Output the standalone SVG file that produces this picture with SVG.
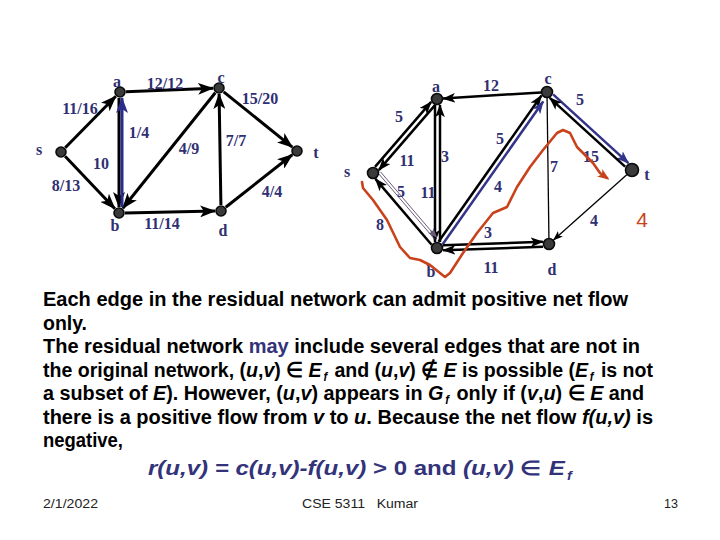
<svg xmlns="http://www.w3.org/2000/svg" width="720" height="540" viewBox="0 0 720 540">
<defs>
<style>
.lbl{font-family:"Liberation Serif","Times New Roman",serif;font-size:16px;font-weight:bold;fill:#2f2f72;text-anchor:middle}
.nd{fill:#3a3a3a;stroke:#0a0a0a;stroke-width:1.6}
.e{stroke:#000;stroke-width:3;fill:none;marker-end:url(#ah)}
.eb{stroke:#2b2b8a;stroke-width:3;fill:none;marker-end:url(#ahb)}
.e2{stroke:#000;stroke-width:2.5;fill:none;marker-end:url(#ah2)}
.eb2{stroke:#33338a;stroke-width:2.5;fill:none;marker-end:url(#ahb2)}
.thin{stroke:#000;stroke-width:1.3;fill:none}
.body{font-family:"Liberation Sans",Arial,sans-serif;font-size:21px;font-weight:bold;fill:#000}
.nv{fill:#33337a}
.sub{font-size:12px;font-style:italic}
.foot{font-family:"Liberation Sans",Arial,sans-serif;font-size:12.5px;fill:#222}
</style>
<marker id="ah" viewBox="0 0 16 12" refX="15" refY="6" markerWidth="16" markerHeight="12" markerUnits="userSpaceOnUse" orient="auto"><path d="M0,0 L16,6 L0,12 L4,6 z" fill="#000"/></marker>
<marker id="ahb" viewBox="0 0 16 12" refX="15" refY="6" markerWidth="16" markerHeight="12" markerUnits="userSpaceOnUse" orient="auto"><path d="M0,0 L16,6 L0,12 L4,6 z" fill="#2b2b8a"/></marker>
<marker id="ah2" viewBox="0 0 16 12" refX="15" refY="6" markerWidth="13" markerHeight="10" markerUnits="userSpaceOnUse" orient="auto"><path d="M0,0 L16,6 L0,12 L4,6 z" fill="#000"/></marker>
<marker id="ahb2" viewBox="0 0 16 12" refX="15" refY="6" markerWidth="13" markerHeight="10" markerUnits="userSpaceOnUse" orient="auto"><path d="M0,0 L16,6 L0,12 L4,6 z" fill="#33338a"/></marker>
<marker id="aht" viewBox="0 0 16 12" refX="15" refY="6" markerWidth="10" markerHeight="8" markerUnits="userSpaceOnUse" orient="auto"><path d="M0,0 L16,6 L0,12 L4,6 z" fill="#000"/></marker>
<marker id="ahp" viewBox="0 0 16 12" refX="15" refY="6" markerWidth="10" markerHeight="8" markerUnits="userSpaceOnUse" orient="auto"><path d="M0,0 L16,6 L0,12 L4,6 z" fill="#6b5b7b"/></marker>
<marker id="ahr" viewBox="0 0 16 12" refX="12" refY="6" markerWidth="12" markerHeight="9" markerUnits="userSpaceOnUse" orient="auto"><path d="M0,0 L16,6 L0,12 L4,6 z" fill="#c8421c"/></marker>
</defs>
<rect width="720" height="540" fill="#fff"/>

<!-- Left graph connectors -->
<g id="connectors-left">
<line class="e" x1="65.2" y1="147.7" x2="115.8" y2="96.3"/>
<line class="e" x1="65.1" y1="156.3" x2="114.9" y2="208.7"/>
<line class="e" x1="126" y1="91.8" x2="213" y2="88.2"/>
<line class="e" x1="223.7" y1="91.8" x2="292.3" y2="147.2"/>
<line class="e" x1="215.3" y1="92.7" x2="122.8" y2="208.3"/>
<line class="e" x1="220.9" y1="205" x2="219.1" y2="94"/>
<line class="e" x1="125" y1="212.9" x2="215" y2="211.1"/>
<line class="e" x1="225.7" y1="207.3" x2="292.3" y2="154.7"/>
<line class="e" x1="119" y1="98" x2="119" y2="207"/>
<line class="eb" x1="122" y1="207" x2="122" y2="98"/>
</g>

<!-- Right graph connectors -->
<g id="connectors-right">
<line class="e2" x1="541" y1="92.4" x2="443" y2="98.6"/>
<line class="e2" x1="375" y1="166.9" x2="431.2" y2="101.9"/>
<line class="e2" x1="435" y1="105.1" x2="378.8" y2="170.1"/>
<line class="e2" x1="435" y1="105" x2="435" y2="242"/>
<line class="e2" x1="440" y1="242" x2="440" y2="105"/>
<line class="e2" x1="438.5" y1="241.7" x2="541.5" y2="95.5"/>
<line class="eb2" x1="442.5" y1="244.5" x2="543.2" y2="101.5"/>
<line class="eb2" x1="553.1" y1="94.3" x2="628.5" y2="163.1"/>
<line class="e2" x1="625.1" y1="166.7" x2="549.7" y2="97.9"/>
<line class="thin" x1="547" y1="92" x2="549" y2="244"/>
<line class="thin" x1="626.8" y1="174.7" x2="553.5" y2="240" style="marker-end:url(#aht)"/>
<line class="e2" x1="442.9" y1="245.3" x2="542.9" y2="241.7"/>
<line class="e2" x1="543.1" y1="246.7" x2="443.1" y2="250.3"/>
<line class="e2" x1="431.6" y1="244.7" x2="375.4" y2="178.9"/>
<line x1="378.5" y1="173.5" x2="434.7" y2="239.3" stroke="#6b5b7b" stroke-width="1"/>
<line x1="380.5" y1="171.8" x2="436.7" y2="237.6" stroke="#6b5b7b" stroke-width="1" style="marker-end:url(#ahp)"/>
</g>

<!-- Left graph nodes -->
<g id="L-a"><circle class="nd" cx="120" cy="92" r="5"/><text class="lbl" x="117" y="87">a</text></g>
<g id="L-c"><circle class="nd" cx="219" cy="88" r="5"/><text class="lbl" x="221" y="83">c</text></g>
<g id="L-s"><circle class="nd" cx="61" cy="152" r="5"/><text class="lbl" x="39" y="155">s</text></g>
<g id="L-t"><circle class="nd" cx="297" cy="151" r="5"/><text class="lbl" x="316" y="158">t</text></g>
<g id="L-b"><circle class="nd" cx="119" cy="213" r="5"/><text class="lbl" x="115" y="231">b</text></g>
<g id="L-d"><circle class="nd" cx="221" cy="211" r="5"/><text class="lbl" x="223" y="236">d</text></g>

<g id="L-labels">
<text class="lbl" x="165" y="89">12/12</text>
<text class="lbl" x="260" y="104">15/20</text>
<text class="lbl" x="80" y="114">11/16</text>
<text class="lbl" x="139" y="138">1/4</text>
<text class="lbl" x="189" y="154">4/9</text>
<text class="lbl" x="236" y="146">7/7</text>
<text class="lbl" x="101" y="169">10</text>
<text class="lbl" x="66" y="191">8/13</text>
<text class="lbl" x="272" y="197">4/4</text>
<text class="lbl" x="162" y="229">11/14</text>
</g>

<!-- Right graph nodes -->
<g id="R-a"><circle class="nd" cx="437" cy="99" r="5.5"/><text class="lbl" x="436" y="92">a</text></g>
<g id="R-c"><circle class="nd" cx="547" cy="92" r="5.5"/><text class="lbl" x="548" y="84">c</text></g>
<g id="R-s"><circle class="nd" cx="373" cy="173" r="5.5"/><text class="lbl" x="347" y="177">s</text></g>
<g id="R-t"><circle class="nd" cx="632" cy="170" r="6.5"/><text class="lbl" x="647" y="180">t</text></g>
<g id="R-b"><circle class="nd" cx="437" cy="248" r="5.5"/><text class="lbl" x="431" y="277">b</text></g>
<g id="R-d"><circle class="nd" cx="549" cy="244" r="5.5"/><text class="lbl" x="552" y="275">d</text></g>

<g id="R-labels">
<text class="lbl" x="491" y="91">12</text>
<text class="lbl" x="580" y="105">5</text>
<text class="lbl" x="399" y="122">5</text>
<text class="lbl" x="500" y="144">5</text>
<text class="lbl" x="407" y="166">11</text>
<text class="lbl" x="445" y="162">3</text>
<text class="lbl" x="554" y="172">7</text>
<text class="lbl" x="591" y="162">15</text>
<text class="lbl" x="401" y="197">5</text>
<text class="lbl" x="428" y="198">11</text>
<text class="lbl" x="498" y="192">4</text>
<text class="lbl" x="380" y="230">8</text>
<text class="lbl" x="488" y="238">3</text>
<text class="lbl" x="594" y="226">4</text>
<text class="lbl" x="491" y="273">11</text>
</g>

<!-- Red annotation -->
<path d="M362,182 L363,188 L373,200 L387,220 L400,247 L410,258 L420,260 L430,265 L445,277 L450,273 L463,253 L477,233 L493,213 L507,207 L517,187 L530,167 L543,150 L557,133 L563,130 L570,133 L577,147 L583,153 L593,163 L600,173 L607,178" fill="none" stroke="#c8421c" stroke-width="2.6" stroke-linejoin="round" stroke-linecap="round" marker-end="url(#ahr)"/>
<text x="642" y="227" font-family="Liberation Sans,Arial,sans-serif" font-size="21" fill="#c8421c" text-anchor="middle">4</text>

<!-- Body text (horizontally condensed) -->
<g transform="translate(43,0) scale(0.88,1)">
<text class="body" x="0" y="306.5" textLength="664.8" lengthAdjust="spacingAndGlyphs">Each edge in the residual network can admit positive net flow</text>
<text class="body" x="0" y="330" textLength="50" lengthAdjust="spacingAndGlyphs">only.</text>
<text class="body" x="0" y="353.5" textLength="678.4" lengthAdjust="spacingAndGlyphs">The residual network <tspan class="nv">may</tspan> include several edges that are not in</text>
<text class="body" x="0" y="377" textLength="693.2" lengthAdjust="spacingAndGlyphs">the original network, (<tspan font-style="italic">u</tspan>,<tspan font-style="italic">v</tspan>) ∈ <tspan font-style="italic">E</tspan><tspan class="sub" dx="2" dy="4">f</tspan><tspan dx="2" dy="-4"> and (</tspan><tspan font-style="italic">u</tspan>,<tspan font-style="italic">v</tspan>) ∉ <tspan font-style="italic">E</tspan> is possible (<tspan font-style="italic">E</tspan><tspan class="sub" dx="2" dy="4">f</tspan><tspan dx="2" dy="-4"> is not</tspan></text>
<text class="body" x="0" y="400.5" textLength="683" lengthAdjust="spacingAndGlyphs">a subset of <tspan font-style="italic">E</tspan>). However, (<tspan font-style="italic">u</tspan>,<tspan font-style="italic">v</tspan>) appears in <tspan font-style="italic">G</tspan><tspan class="sub" dx="2" dy="4">f</tspan><tspan dx="2" dy="-4"> only if (</tspan><tspan font-style="italic">v</tspan>,<tspan font-style="italic">u</tspan>) ∈ <tspan font-style="italic">E</tspan> and</text>
<text class="body" x="0" y="424" textLength="693.2" lengthAdjust="spacingAndGlyphs">there is a positive flow from <tspan font-style="italic">v</tspan> to <tspan font-style="italic">u</tspan>. Because the net flow <tspan font-style="italic">f(u,v)</tspan> is</text>
<text class="body" x="0" y="447.5" textLength="90.9" lengthAdjust="spacingAndGlyphs">negative,</text>
</g>

<g transform="translate(148,0) scale(0.9,1)">
<text x="0" y="475" textLength="471" lengthAdjust="spacingAndGlyphs" font-family="Liberation Sans,Arial,sans-serif" font-size="20" font-weight="bold" fill="#33337a"><tspan font-style="italic">r(u,v) = c(u,v)-f(u,v)</tspan> &gt; 0 and <tspan font-style="italic">(u,v)</tspan> ∈ <tspan font-style="italic">E</tspan><tspan class="sub" dx="2" dy="5">f</tspan></text>
</g>

<text class="foot" x="43" y="508" textLength="55" lengthAdjust="spacingAndGlyphs">2/1/2022</text>
<text class="foot" x="302" y="508" xml:space="preserve" textLength="116" lengthAdjust="spacingAndGlyphs">CSE 5311   Kumar</text>
<text class="foot" x="678" y="508" text-anchor="end">13</text>
</svg>
